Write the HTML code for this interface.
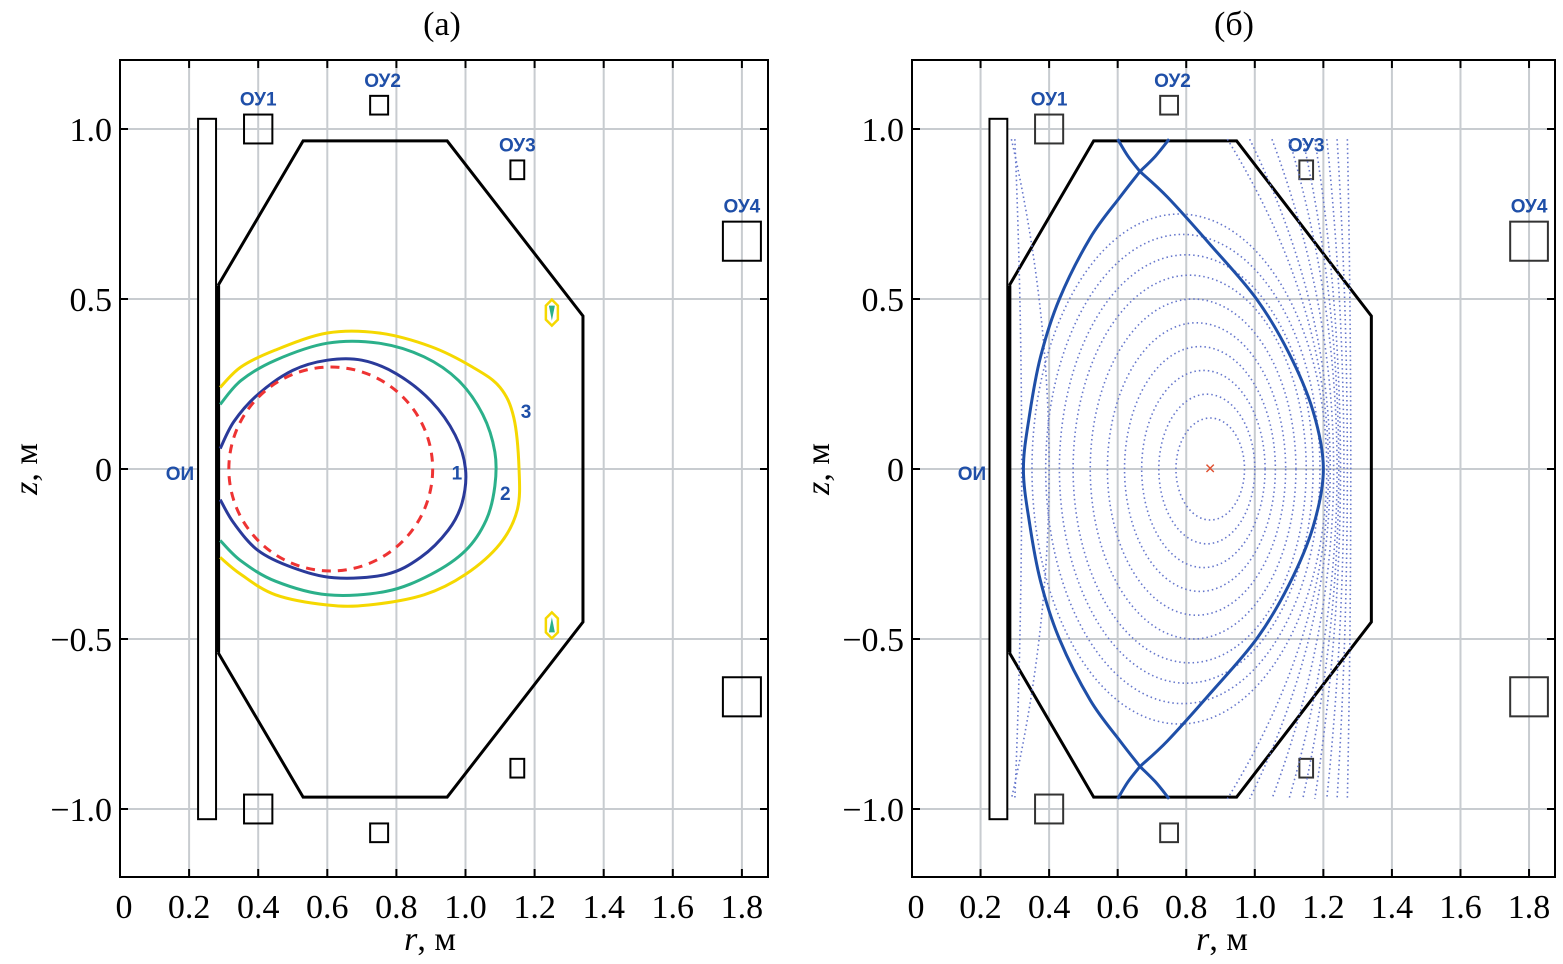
<!DOCTYPE html>
<html><head><meta charset="utf-8"><style>
body{margin:0;background:#fff}
svg{display:block}
text{font-family:"Liberation Serif",serif}
.lab{font-family:"Liberation Sans",sans-serif;font-weight:bold;fill:#1f4fa8;font-size:19px}
</style></head><body>
<svg id="s" width="1563" height="964" viewBox="0 0 1563 964" xmlns="http://www.w3.org/2000/svg"></svg>
<script>
const xTicks=[0,0.2,0.4,0.6,0.8,1.0,1.2,1.4,1.6,1.8];
const xTickLabels=["0","0.2","0.4","0.6","0.8","1.0","1.2","1.4","1.6","1.8"];
const zTicks=[1.0,0.5,0,-0.5,-1.0];
const zTickLabels=["1.0","0.5","0","\u22120.5","\u22121.0"];
const vesselR=[0.284,0.53,0.947,1.34,1.34,0.947,0.53,0.284];
const vesselZ=[0.54,0.965,0.965,0.45,-0.45,-0.965,-0.965,-0.54];
const coilNames=["ОУ1","ОУ2","ОУ3","ОУ4"];
const coilR=[0.40,0.75,1.15,1.80];
const coilZ=[1.0,1.07,0.88,0.67];
const coilW=[0.082,0.052,0.04,0.11];
const coilH=[0.085,0.055,0.055,0.115];
const contour1=[[0.29,0.06],[0.33,0.14],[0.40,0.22],[0.50,0.29],[0.60,0.32],[0.70,0.32],[0.80,0.28],[0.90,0.20],[0.97,0.10],[1.00,0.0],[0.99,-0.1],[0.95,-0.18],[0.87,-0.26],[0.77,-0.31],[0.62,-0.32],[0.50,-0.29],[0.40,-0.24],[0.33,-0.16],[0.29,-0.09]];
const contour2=[[0.29,0.19],[0.35,0.26],[0.45,0.32],[0.60,0.37],[0.75,0.37],[0.88,0.33],[0.98,0.26],[1.05,0.16],[1.085,0.05],[1.085,-0.05],[1.06,-0.15],[1.0,-0.24],[0.9,-0.31],[0.77,-0.36],[0.6,-0.37],[0.45,-0.33],[0.35,-0.27],[0.29,-0.21]];
const contour3=[[0.29,0.24],[0.35,0.3],[0.45,0.35],[0.6,0.4],[0.75,0.4],[0.9,0.36],[1.02,0.3],[1.1,0.24],[1.14,0.15],[1.155,0.0],[1.15,-0.12],[1.1,-0.22],[1.0,-0.31],[0.88,-0.37],[0.72,-0.4],[0.6,-0.4],[0.45,-0.37],[0.35,-0.31],[0.29,-0.26]];
const circleC=[0.61,0],circleR=0.295,circleZR=0.3;
const sepLeft=[[0.665,0.875],[0.607,0.8],[0.52,0.68],[0.43,0.5],[0.375,0.33],[0.343,0.16],[0.325,0]];
const sepRight=[[0.665,0.875],[0.745,0.8],[0.87,0.66],[1.005,0.5],[1.10,0.34],[1.17,0.17],[1.2,0]];
const legs=[[[0.665,0.875],[0.63,0.92],[0.60,0.97]],[[0.665,0.875],[0.71,0.92],[0.75,0.97]]];
const surfC=[0.87,0.86,0.85,0.84,0.83,0.82,0.81,0.80,0.79,0.78];
const surfA=[0.10,0.14,0.18,0.22,0.26,0.30,0.34,0.37,0.40,0.43];
const surfB=[0.15,0.22,0.29,0.36,0.43,0.50,0.57,0.63,0.69,0.75];
const outerTopR=[0.92,0.985,1.05,1.10,1.14,1.175,1.21,1.24,1.27];
const outerMidR=[1.215,1.22,1.23,1.24,1.245,1.25,1.26,1.27,1.28];
const leftOuterTopR=[0.29,0.30];
const leftOuterMidR=[0.40,0.32];

const S=document.getElementById('s');
const NS="http://www.w3.org/2000/svg";
function el(t,a,p){const e=document.createElementNS(NS,t);for(const k in a)e.setAttribute(k,a[k]);(p||S).appendChild(e);return e;}
function smooth(P){let d=`M${P[0][0]},${P[0][1]}`;for(let i=0;i<P.length-1;i++){const p0=P[Math.max(0,i-1)],p1=P[i],p2=P[i+1],p3=P[Math.min(P.length-1,i+2)];
 d+=` C${p1[0]+(p2[0]-p0[0])/6},${p1[1]+(p2[1]-p0[1])/6} ${p2[0]-(p3[0]-p1[0])/6},${p2[1]-(p3[1]-p1[1])/6} ${p2[0]},${p2[1]}`;}return d;}
const sy=340,Y0=469;
function panel(X0,right,idx,sx){
  const g=el('g',{});
  
  
  const X=r=>X0+r*sx, Z=z=>Y0-z*sy;
  const px=a=>a.map(p=>[X(p[0]),Z(p[1])]);
  const pts=a=>a.map(p=>X(p[0])+','+Z(p[1])).join(' ');
  for(const t of xTicks){const l=el('line',{x1:X(t),x2:X(t),y1:60,y2:877,stroke:'#c8ccd0','stroke-width':2},g);}
  for(const t of zTicks){const l=el('line',{x1:X0,x2:right,y1:Z(t),y2:Z(t),stroke:'#c8ccd0','stroke-width':2},g);}
  xTicks.forEach((t,i)=>{const e=el('text',{x:X(t)+(i==0?4:0),y:918,'font-size':34,'text-anchor':'middle'},g);e.textContent=xTickLabels[i];
    el('line',{x1:X(t),x2:X(t),y1:877,y2:869,stroke:'#000','stroke-width':2},g);el('line',{x1:X(t),x2:X(t),y1:60,y2:68,stroke:'#000','stroke-width':2},g);});
  zTicks.forEach((t,i)=>{const e=el('text',{x:X0-8,y:Z(t)+12,'font-size':34,'text-anchor':'end'},g);e.textContent=zTickLabels[i];
    el('line',{x1:X0,x2:X0+8,y1:Z(t),y2:Z(t),stroke:'#000','stroke-width':2},g);el('line',{x1:right,x2:right-8,y1:Z(t),y2:Z(t),stroke:'#000','stroke-width':2},g);});
  const fr=el('rect',{x:X0,y:60,width:right-X0,height:817,fill:'none',stroke:'#000','stroke-width':2},g);
  let e=el('text',{x:X0+310,y:950,'font-size':34,'text-anchor':'middle'},g);e.innerHTML='<tspan font-style="italic">r</tspan>, м';
  e=el('text',{x:0,y:0,'font-size':34,'text-anchor':'middle',transform:`translate(${X0-83},469) rotate(-90)`},g);e.innerHTML='<tspan font-style="italic">z</tspan>, м';
  e=el('text',{x:X0+322,y:35,'font-size':34,'text-anchor':'middle'},g);e.textContent=idx?'(б)':'(а)';
  e=el('rect',{x:X(0.226),y:Z(1.03),width:0.052*sx,height:2.06*sy,fill:'#fff',stroke:'#000','stroke-width':2},g);
  e=el('text',{x:X0+60,y:Z(0)+11,class:'lab','text-anchor':'middle'},g);e.textContent='ОИ';
  coilNames.forEach((n,i)=>{[1,-1].forEach(s=>{const c=el('rect',{x:X(coilR[i]-coilW[i]/2),y:Z(s*coilZ[i]+coilH[i]/2),width:coilW[i]*sx,height:coilH[i]*sy,fill:'none',stroke:idx?'#333':'#000','stroke-width':2},g);});
    const t=el('text',{x:X(coilR[i]+(i==1?0.01:0)),y:Z(coilZ[i]+coilH[i]/2)-9,class:'lab','text-anchor':'middle'},g);t.textContent=n;});
  const vp=vesselR.map((r,i)=>[r,vesselZ[i]]);
  e=el('polyline',{points:pts(vp),fill:'none',stroke:'#000','stroke-width':3},g);
  el('line',{x1:X(0.284),x2:X(0.284),y1:Z(0.54),y2:Z(-0.54),stroke:'#000','stroke-width':4},g);
  return {g,X,Z,pts,px};
}
let A=panel(120,768,0,345.5);
[[contour3,'#f5d800','contour-3'],[contour2,'#2bb08a','contour-2'],[contour1,'#2a3a9a','contour-1']].forEach(c=>{const e=el('path',{d:smooth(A.px(c[0])),fill:'none',stroke:c[1],'stroke-width':3},A.g);});
let e=el('ellipse',{cx:A.X(circleC[0]),cy:A.Z(circleC[1]),rx:circleR*345.5,ry:circleZR*sy,fill:'none',stroke:'#ee3333','stroke-width':3,'stroke-dasharray':'9 7'},A.g);
[['1',0.96,-0.01],['2',1.10,-0.07],['3',1.16,0.17]].forEach(l=>{const t=el('text',{x:A.X(l[1]),y:A.Z(l[2])+7,class:'lab'},A.g);t.textContent=l[0];});
[0.46,-0.46].forEach(z=>{const x=A.X(1.25),y=A.Z(z);const m=el('polygon',{points:`${x-6},${y-7} ${x},${y-13} ${x+6},${y-7} ${x+6},${y+7} ${x},${y+13} ${x-6},${y+7}`,fill:'#fff',stroke:'#f5d800','stroke-width':2.5},A.g);
 el('polygon',{points:`${x-3},${y+(z>0?-7:7)} ${x+3},${y+(z>0?-7:7)} ${x},${y+(z>0?8:-8)}`,fill:'#2bb08a'},A.g);});
const sxB=342.8;
let B=panel(912,1555,1,sxB);
const dot={fill:'none',stroke:'#6677cc','stroke-width':1.6,'stroke-dasharray':'1.5 3'};
surfC.forEach((c,i)=>{const e=el('ellipse',Object.assign({cx:B.X(c),cy:B.Z(0),rx:surfA[i]*sxB,ry:surfB[i]*sy},dot),B.g);});
[[outerTopR,outerMidR],[leftOuterTopR,leftOuterMidR]].forEach(pair=>pair[0].forEach((r,i)=>{const m=pair[1][i];const cx=2*m-r;const e=el('path',Object.assign({d:`M${B.X(r)},${B.Z(0.97)} Q${B.X(cx)},${B.Z(0)} ${B.X(r)},${B.Z(-0.97)}`},dot),B.g);}));
[sepLeft,sepRight].forEach(a=>{const full=a.concat(a.slice(0,-1).reverse().map(p=>[p[0],-p[1]]));const e=el('path',{d:smooth(B.px(full)),fill:'none',stroke:'#1f4fa8','stroke-width':3},B.g);});
[1,-1].forEach(s=>{const m=a=>a.map(p=>[p[0],s*p[1]]);
 legs.forEach(a=>{const e=el('path',{d:smooth(B.px(m(a))),fill:'none',stroke:'#1f4fa8','stroke-width':3},B.g);});});
e=el('text',{x:B.X(0.87),y:B.Z(0)+6,'font-size':20,'font-weight':'bold','text-anchor':'middle',fill:'#e05030','font-family':'Liberation Sans'},B.g);e.textContent='×';
</script>
</body></html>
